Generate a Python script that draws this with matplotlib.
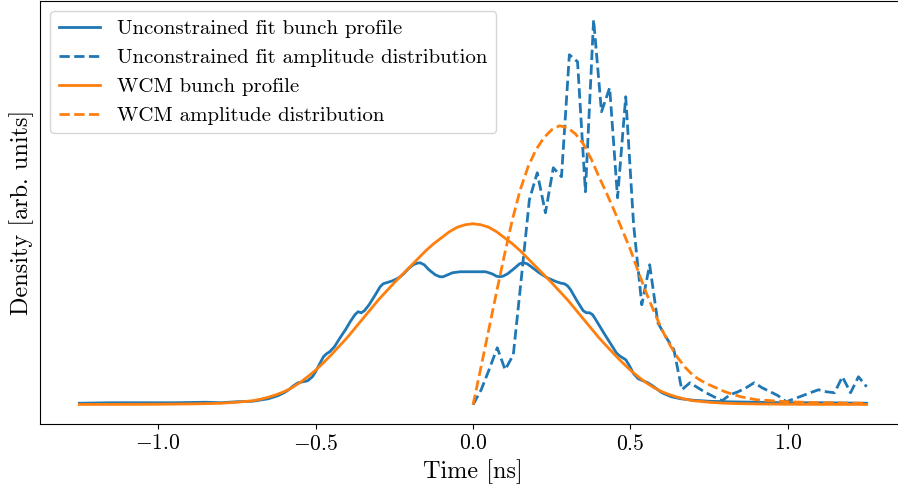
import matplotlib
matplotlib.use("Agg")
import matplotlib.pyplot as plt

plt.rcParams["font.family"] = "serif"
plt.rcParams["font.serif"] = ["cmr10"]
plt.rcParams["mathtext.fontset"] = "cm"
plt.rcParams["axes.formatter.use_mathtext"] = True

# unconstrained fit bunch profile
fit_prof_t = [-1.25, -1.15, -1.05, -0.95, -0.85, -0.80, -0.75, -0.70, -0.65, -0.62,
              -0.60, -0.585, -0.57, -0.555, -0.54, -0.525, -0.51, -0.50, -0.485, -0.475,
              -0.465, -0.455, -0.44, -0.42, -0.405, -0.39, -0.375, -0.365, -0.355, -0.345,
              -0.33, -0.31, -0.295, -0.285, -0.275, -0.255, -0.235, -0.22, -0.205, -0.19,
              -0.178, -0.168, -0.155, -0.14, -0.12, -0.105, -0.095, -0.08, -0.065, -0.04,
              0.0, 0.04, 0.06, 0.075, 0.085, 0.095, 0.11, 0.13, 0.148, 0.16,
              0.172, 0.185, 0.21, 0.235, 0.25, 0.265, 0.28, 0.29, 0.30, 0.31,
              0.33, 0.35, 0.36, 0.37, 0.38, 0.39, 0.415, 0.435, 0.455, 0.465,
              0.475, 0.485, 0.495, 0.51, 0.525, 0.54, 0.555, 0.57, 0.60, 0.63,
              0.66, 0.70, 0.75, 0.80, 0.90, 1.00, 1.10, 1.25]
fit_prof = [1.5, 2, 2, 2, 2.5, 2, 3, 3.5, 6, 9,
            12, 15, 19, 22, 23, 24, 28, 33, 42, 48,
            51, 53, 58, 68, 75, 83, 90, 93, 92, 94,
            100, 110, 118, 121, 122, 124, 127, 131, 136, 140,
            141.5, 142, 140, 135, 130, 128, 128, 130, 132, 133,
            133, 133, 131, 128.5, 128, 128.5, 131, 136, 141, 142,
            141, 138, 132, 127, 125, 123, 121.5, 121, 119, 115,
            104, 94, 92, 92, 90, 85, 72, 62, 52, 49,
            47, 45, 40, 31, 26, 24, 22, 19, 12, 8,
            6, 4.5, 3.5, 3, 2.5, 2, 2, 1.5]

# unconstrained fit amplitude distribution
fit_amp_t = [0.000, 0.026, 0.051, 0.077, 0.102, 0.128, 0.153, 0.179, 0.204, 0.230,
             0.255, 0.281, 0.306, 0.332, 0.357, 0.383, 0.408, 0.434, 0.459, 0.485,
             0.510, 0.536, 0.561, 0.587, 0.612, 0.638, 0.663, 0.689, 0.714, 0.740,
             0.765, 0.791, 0.816, 0.842, 0.867, 0.893, 0.918, 0.944, 0.969, 0.995,
             1.020, 1.046, 1.071, 1.097, 1.122, 1.148, 1.173, 1.199, 1.224, 1.250]
fit_amp = [0, 15, 35, 57, 35, 50, 125, 205, 232, 192,
           237, 228, 350, 343, 213, 385, 293, 317, 207, 308,
           180, 100, 140, 82, 68, 55, 15, 22, 17, 12,
           8, 4, 10, 13, 17, 22, 17, 13, 9, 3,
           6, 9, 12, 15, 13, 12, 28, 12, 28, 18]

# WCM bunch profile
wcm_prof_t = [-1.25, -1.1, -1.0, -0.9, -0.85, -0.8, -0.75, -0.7, -0.675, -0.65,
              -0.625, -0.6, -0.575, -0.55, -0.525, -0.5, -0.475, -0.45, -0.425, -0.4,
              -0.375, -0.35, -0.325, -0.3, -0.275, -0.25, -0.225, -0.2, -0.175, -0.15,
              -0.125, -0.1, -0.075, -0.05, -0.025, 0.0, 0.025, 0.05, 0.075, 0.1,
              0.125, 0.15, 0.175, 0.2, 0.225, 0.25, 0.275, 0.3, 0.325, 0.35,
              0.375, 0.4, 0.425, 0.45, 0.475, 0.5, 0.525, 0.55, 0.575, 0.6,
              0.625, 0.65, 0.675, 0.7, 0.75, 0.8, 0.85, 0.9, 1.0, 1.1, 1.25]
wcm_prof = [0.3, 0.4, 0.5, 0.8, 1.1, 1.5, 2.5, 4, 5.5, 7.5,
            10, 13, 17, 22, 28, 34.5, 42, 50, 58.5, 67,
            76.5, 86, 95.5, 105, 113.5, 122, 130, 138, 146, 154,
            161, 167, 173, 177.5, 180, 181, 180, 177.5, 173, 167,
            161, 154, 146, 138, 130, 122, 113.5, 105, 95.5, 86,
            76.5, 67, 58.5, 50, 42, 34.5, 28, 22, 17, 13,
            10, 7.5, 5.5, 4, 2.5, 1.5, 1.1, 0.8, 0.5, 0.4, 0.3]

# WCM amplitude distribution
wcm_amp_t = [0.0, 0.025, 0.05, 0.075, 0.1, 0.125, 0.15, 0.175, 0.2, 0.225,
             0.25, 0.275, 0.3, 0.325, 0.35, 0.375, 0.4, 0.425, 0.45, 0.475,
             0.5, 0.525, 0.55, 0.575, 0.6, 0.625, 0.65, 0.675, 0.7, 0.725,
             0.75, 0.8, 0.85, 0.9, 0.95, 1.0, 1.1, 1.25]
wcm_amp = [0, 37, 75, 113, 150, 185, 215, 238, 255, 267,
           275, 279, 277, 271, 261, 246, 228, 211, 193, 174,
           155, 133, 112, 93, 75, 60, 47, 37, 29, 24,
           20, 13, 8, 5, 4, 3, 2, 1.5]

fig = plt.figure(figsize=(8.98, 4.88), dpi=100)
ax = fig.add_axes([40 / 898, 64 / 488, 866 / 898, 423.5 / 488])

ax.plot(fit_prof_t, fit_prof, color="C0", lw=2, label="Unconstrained fit bunch profile")
ax.plot(fit_amp_t, fit_amp, color="C0", lw=2, ls="--", label="Unconstrained fit amplitude distribution")
ax.plot(wcm_prof_t, wcm_prof, color="C1", lw=2, label="WCM bunch profile")
ax.plot(wcm_amp_t, wcm_amp, color="C1", lw=2, ls="--", label="WCM amplitude distribution")

ax.set_xlim(-1.375, 1.375)
ax.set_ylim(-19.25, 404.25)
ax.set_xticks([-1.0, -0.5, 0.0, 0.5, 1.0])
ax.set_yticks([])
ax.tick_params(labelsize=15.5)
ax.set_xlabel("Time [ns]", fontsize=17.5)
ax.set_ylabel("Density [arb. units]", fontsize=17.5)
ax.legend(loc="upper left", fontsize=15)

fig.savefig("out.png", dpi=100)
